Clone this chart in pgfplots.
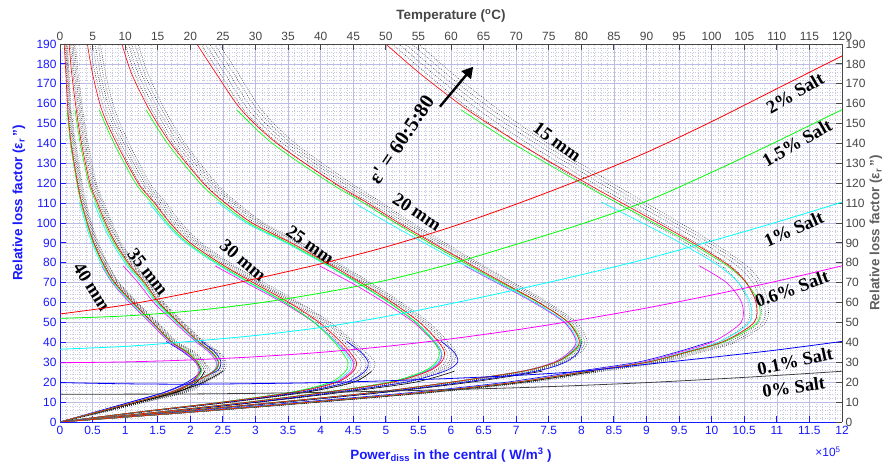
\documentclass[border=0pt]{standalone}
\usepackage{fontspec}
\setmainfont{Liberation Sans}
\newfontfamily\tnr{Liberation Serif}
\usepackage{pgfplots}
\pgfplotsset{compat=1.18}
\usepackage{pgfplotstable}
\usetikzlibrary{arrows.meta}

\definecolor{axblue}{RGB}{25,25,255}
\definecolor{axgray}{RGB}{70,70,70}
\definecolor{labgray}{RGB}{95,95,95}
\definecolor{gridmaj}{RGB}{188,188,228}
\definecolor{gridmin}{RGB}{200,200,225}
\definecolor{mgreen}{RGB}{0,255,0}
\definecolor{mcyan}{RGB}{0,255,255}
\definecolor{mmag}{RGB}{255,0,255}
\definecolor{mred}{RGB}{255,0,0}
\definecolor{mblue}{RGB}{0,0,255}

\newcommand\tickfont{\fontsize{12}{14}\selectfont}
\newcommand\labfont{\bfseries\fontsize{13.5}{15}\selectfont}
\newcommand\annfont{\tnr\bfseries\fontsize{18.5}{21}\selectfont}

\pgfplotsset{
  dk/.style={black!85, dash pattern=on 0.6pt off 1.5pt, line width=0.55pt, smooth},
  ck/.style={black, line width=0.6pt, smooth},
  cb/.style={mblue, line width=0.6pt, smooth},
  cm/.style={mmag, line width=0.6pt, smooth},
  cc/.style={mcyan, line width=0.6pt, smooth},
  cg/.style={mgreen, line width=0.6pt, smooth},
  cr/.style={mred, line width=0.6pt, smooth},
}

% columns: e = relative loss factor, r g c m b k = solid curves, d1..d5 = eps' = 60:5:80
\pgfplotstableread{
e     r     g     c     m     b     k     d1    d2    d3    d4    d5
0     0     0     0     0     0     0     0     0     0     0     0
5     2.0   2.0   2.0   2.0   1.9   2.05  2.0   2.02  2.04  2.06  2.08
10    3.85  3.85  3.85  3.84  3.7   3.95  3.85  3.89  3.93  3.97  4.01
15    5.6   5.6   5.6   5.58  5.45  5.7   5.6   5.65  5.7   5.75  5.8
20    7.0   7.0   6.99  6.97  6.85  7.1   7.0   7.06  7.12  7.18  7.24
25.5  8.1   8.1   8.08  8.05  7.95  8.2   8.1   8.16  8.22  8.28  8.34
30    9.0   9.01  8.97  8.93  8.85  nan   9.0   9.06  9.12  9.18  9.24
35    9.6   9.62  9.56  9.5   9.45  nan   9.58  9.65  9.71  9.77  9.83
40.5  10.18 10.21 10.13 10.03 10.0  nan   10.13 10.21 10.28 10.34 10.4
50    10.65 10.7  10.58 10.45 nan   nan   10.55 10.65 10.72 10.78 10.83
60    10.68 10.72 10.59 10.46 nan   nan   10.56 10.68 10.75 10.81 10.86
70    10.53 10.53 10.41 10.23 nan   nan   10.41 10.54 10.63 10.7  10.76
78.5  10.27 10.24 10.11 9.81  nan   nan   10.15 10.29 10.39 10.47 10.54
90    9.72  9.67  9.52  nan   nan   nan   9.61  9.76  9.87  9.96  10.03
100   9.18  9.12  8.94  nan   nan   nan   9.08  9.24  9.35  9.44  9.52
110.5 8.6   8.53  8.31  nan   nan   nan   8.53  8.68  8.79  8.89  8.97
120   8.08  8.0   nan   nan   nan   nan   8.03  8.18  8.29  8.39  8.48
140   7.05  6.95  nan   nan   nan   nan   7.05  7.18  7.3   7.4   7.49
157   6.25  6.15  nan   nan   nan   nan   6.3   6.42  6.53  6.63  6.73
175   5.53  nan   nan   nan   nan   nan   5.63  5.73  5.83  5.93  6.03
190   5.0   nan   nan   nan   nan   nan   5.1   5.2   5.3   5.4   5.5
}\Tfifteen

\pgfplotstableread{
e     r     g     c     m     b     k     d1    d2    d3    d4    d5
0     0     0     0     0     0     0     0     0     0     0     0
5     1.7   1.7   1.7   1.7   1.72  1.75  1.7   1.72  1.73  1.75  1.76
10    3.35  3.35  3.35  3.35  3.4   3.45  3.35  3.38  3.41  3.44  3.47
15    4.85  4.85  4.85  4.84  4.95  5.0   4.85  4.89  4.93  4.97  5.01
20    6.0   6.0   6.0   5.99  6.2   6.3   6.0   6.05  6.1   6.15  6.2
25.5  7.1   7.1   7.09  7.08  7.3   7.4   7.1   7.15  7.2   7.25  7.3
30    7.6   7.61  7.59  7.57  7.75  nan   7.6   7.64  7.68  7.72  7.76
35    7.85  7.87  7.83  7.81  7.95  nan   7.82  7.87  7.91  7.95  7.99
40.5  7.97  7.99  7.94  7.92  8.0   nan   7.92  7.97  8.01  8.05  8.09
50    7.8   7.81  7.76  7.74  nan   nan   7.75  7.8   7.85  7.89  7.93
60    7.35  7.34  7.29  7.27  nan   nan   7.3   7.36  7.41  7.45  7.49
70    6.8   6.77  6.72  6.7   nan   nan   6.75  6.82  6.87  6.92  6.96
78.5  6.33  6.29  6.23  6.21  nan   nan   6.28  6.35  6.41  6.46  6.5
90    5.72  5.67  5.59  nan   nan   nan   5.67  5.75  5.81  5.86  5.91
100   5.2   5.15  5.04  nan   nan   nan   5.16  5.24  5.3   5.36  5.41
110.5 4.7   4.64  4.5   nan   nan   nan   4.67  4.75  4.82  4.88  4.93
120   4.22  4.15  nan   nan   nan   nan   4.2   4.28  4.35  4.41  4.47
140   3.33  3.26  nan   nan   nan   nan   3.35  3.42  3.49  3.55  3.61
157   2.78  2.71  nan   nan   nan   nan   2.82  2.89  2.96  3.03  3.09
175   2.4   nan   nan   nan   nan   nan   2.46  2.53  2.6   2.67  2.74
190   2.1   nan   nan   nan   nan   nan   2.16  2.23  2.3   2.37  2.44
}\Ttwenty

\pgfplotstableread{
e     r     g     c     m     b     k     d1    d2    d3    d4    d5
0     0     0     0     0     0     0     0     0     0     0     0
5     1.5   1.5   1.5   1.5   1.55  1.57  1.5   1.52  1.54  1.56  1.58
10    2.9   2.88  2.9   2.9   3.0   3.05  2.9   2.94  2.98  3.02  3.06
15    4.1   4.07  4.09  4.09  4.25  4.35  4.1   4.15  4.2   4.25  4.3
20    5.1   5.05  5.07  5.08  5.3   5.45  5.1   5.16  5.22  5.28  5.34
25.5  5.65  5.58  5.6   5.62  5.9   6.05  5.65  5.72  5.77  5.82  5.87
30    5.85  5.77  5.8   5.82  6.1   nan   5.83  5.91  5.96  6.0   6.04
35    5.9   5.82  5.85  5.85  6.05  nan   5.86  5.94  5.99  6.03  6.07
40.5  5.8   5.73  5.75  5.73  5.85  nan   5.75  5.82  5.87  5.91  5.95
50    5.52  5.46  5.47  5.43  nan   nan   5.47  5.53  5.58  5.62  5.66
60    5.1   5.05  5.05  4.98  nan   nan   5.06  5.12  5.16  5.2   5.24
70    4.62  4.57  4.56  4.47  nan   nan   4.59  4.65  4.69  4.73  4.77
78.5  4.18  4.13  4.11  3.98  nan   nan   4.16  4.22  4.26  4.3   4.34
90    3.55  3.5   3.47  nan   nan   nan   3.54  3.59  3.64  3.68  3.72
100   2.95  2.9   2.86  nan   nan   nan   2.95  3.0   3.05  3.09  3.13
110.5 2.52  2.47  2.42  nan   nan   nan   2.53  2.58  2.63  2.67  2.71
120   2.2   2.15  nan   nan   nan   nan   2.22  2.27  2.32  2.36  2.4
140   1.7   1.65  nan   nan   nan   nan   1.73  1.78  1.83  1.88  1.92
157   1.37  1.32  nan   nan   nan   nan   1.41  1.46  1.51  1.56  1.61
175   1.1   nan   nan   nan   nan   nan   1.15  1.2   1.25  1.3   1.35
190   0.95  nan   nan   nan   nan   nan   1.0   1.05  1.1   1.15  1.2
}\Ttwentyfive

\pgfplotstableread{
e     r     g     c     m     b     k     d1    d2    d3    d4    d5
0     0     0     0     0     0     0     0     0     0     0     0
5     1.2   1.2   1.2   1.2   1.22  1.25  1.2   1.22  1.24  1.26  1.28
10    2.5   2.48  2.49  2.5   2.55  2.6   2.5   2.54  2.58  2.62  2.66
15    3.6   3.55  3.57  3.58  3.7   3.78  3.6   3.65  3.7   3.75  3.8
20    4.25  4.15  4.19  4.22  4.4   4.5   4.25  4.32  4.39  4.45  4.51
25.5  4.5   4.38  4.43  4.47  4.68  4.78  4.5   4.58  4.65  4.72  4.78
30    4.55  4.42  4.47  4.5   4.73  nan   4.52  4.62  4.69  4.76  4.83
35    4.45  4.33  4.37  4.4   4.62  nan   4.41  4.51  4.58  4.64  4.69
40.5  4.3   4.2   4.22  4.23  4.4   nan   4.26  4.35  4.41  4.46  4.5
50    3.98  3.9   3.91  3.9   nan   nan   3.95  4.02  4.07  4.11  4.15
60    3.52  3.46  3.45  3.42  nan   nan   3.5   3.56  3.6   3.64  3.68
70    2.97  2.92  2.9   2.85  nan   nan   2.96  3.01  3.05  3.09  3.13
78.5  2.52  2.48  2.45  2.38  nan   nan   2.52  2.56  2.6   2.64  2.68
90    2.0   1.96  1.93  nan   nan   nan   2.0   2.05  2.09  2.13  2.17
100   1.69  1.65  1.62  nan   nan   nan   1.7   1.74  1.78  1.82  1.86
110.5 1.44  1.4   1.36  nan   nan   nan   1.46  1.5   1.54  1.58  1.62
120   1.2   1.16  nan   nan   nan   nan   1.22  1.26  1.3   1.34  1.38
140   0.87  0.83  nan   nan   nan   nan   0.9   0.94  0.98  1.02  1.06
157   0.64  0.6   nan   nan   nan   nan   0.68  0.72  0.76  0.8   0.84
175   0.5   nan   nan   nan   nan   nan   0.54  0.58  0.62  0.66  0.7
190   0.42  nan   nan   nan   nan   nan   0.46  0.5   0.54  0.58  0.62
}\Tthirty

\pgfplotstableread{
e     r     g     c     m     b     k     d1    d2    d3    d4    d5
0     0     0     0     0     0     0     0     0     0     0     0
5     0.57  0.57  0.57  0.57  0.54  0.6   0.59  0.61  0.63  0.65  0.67
10    1.15  1.15  1.15  1.15  1.08  1.2   1.18  1.21  1.24  1.27  1.3
15    1.7   1.7   1.7   1.69  1.62  1.78  1.74  1.78  1.82  1.86  1.9
20    2.05  2.05  2.04  2.04  2.0   2.2   2.09  2.13  2.17  2.21  2.25
25.5  2.36  2.37  2.35  2.35  2.4   2.5   2.38  2.42  2.45  2.48  2.51
30    2.43  2.44  2.41  2.4   2.47  nan   2.43  2.47  2.5   2.53  2.55
35    2.33  2.34  2.31  2.29  2.38  nan   2.33  2.37  2.4   2.43  2.45
40.5  2.12  2.12  2.1   2.08  2.17  nan   2.12  2.15  2.17  2.19  2.21
50    1.82  1.81  1.79  1.76  nan   nan   1.82  1.84  1.86  1.88  1.9
60    1.52  1.5   1.48  1.44  nan   nan   1.52  1.54  1.56  1.58  1.6
70    1.3   1.28  1.25  1.2   nan   nan   1.31  1.33  1.35  1.37  1.39
78.5  1.08  1.06  1.03  0.97  nan   nan   1.09  1.11  1.13  1.15  1.17
90    0.85  0.83  0.8   nan   nan   nan   0.86  0.88  0.9   0.92  0.94
100   0.7   0.68  0.65  nan   nan   nan   0.72  0.74  0.76  0.78  0.8
110.5 0.57  0.55  0.52  nan   nan   nan   0.59  0.61  0.63  0.65  0.67
120   0.46  0.44  nan   nan   nan   nan   0.48  0.5   0.52  0.54  0.56
140   0.33  0.31  nan   nan   nan   nan   0.35  0.37  0.39  0.41  0.43
157   0.25  0.23  nan   nan   nan   nan   0.27  0.29  0.31  0.33  0.35
175   0.18  nan   nan   nan   nan   nan   0.2   0.22  0.24  0.26  0.28
190   0.14  nan   nan   nan   nan   nan   0.16  0.18  0.2   0.22  0.24
}\Tthirtyfive

\pgfplotstableread{
e     r     g     c     m     b     k     d1    d2    d3    d4    d5
0     0     0     0     0     0     0     0     0     0     0     0
5     0.58  0.58  0.58  0.58  0.54  0.6   0.6   0.62  0.64  0.66  0.68
10    1.16  1.16  1.16  1.16  1.08  1.2   1.19  1.22  1.25  1.28  1.31
15    1.75  1.75  1.75  1.74  1.6   1.8   1.79  1.83  1.87  1.91  1.95
20    2.02  2.03  2.02  2.01  1.95  2.1   2.06  2.1   2.14  2.18  2.22
25.5  2.15  2.17  2.14  2.13  2.16  2.22  2.17  2.21  2.24  2.27  2.3
30    2.1   2.12  2.09  2.08  2.08  nan   2.1   2.14  2.17  2.2   2.22
35    1.95  1.97  1.94  1.92  1.9   nan   1.95  1.99  2.02  2.05  2.07
40.5  1.7   1.71  1.69  1.67  1.63  nan   1.7   1.73  1.75  1.77  1.79
50    1.42  1.42  1.4   1.38  nan   nan   1.42  1.44  1.46  1.48  1.5
60    1.12  1.11  1.09  1.07  nan   nan   1.13  1.145 1.16  1.175 1.19
70    0.84  0.83  0.81  0.8   nan   nan   0.85  0.865 0.88  0.895 0.91
78.5  0.68  0.67  0.65  0.64  nan   nan   0.69  0.705 0.72  0.735 0.75
90    0.52  0.51  0.49  nan   nan   nan   0.53  0.545 0.56  0.575 0.59
100   0.42  0.41  0.39  nan   nan   nan   0.43  0.445 0.46  0.475 0.49
110.5 0.33  0.32  0.3   nan   nan   nan   0.34  0.355 0.37  0.385 0.4
120   0.27  0.26  nan   nan   nan   nan   0.28  0.295 0.31  0.325 0.34
140   0.17  0.16  nan   nan   nan   nan   0.18  0.195 0.21  0.225 0.24
157   0.12  0.11  nan   nan   nan   nan   0.13  0.14  0.15  0.16  0.17
175   0.09  nan   nan   nan   nan   nan   0.1   0.11  0.12  0.13  0.14
190   0.065 nan   nan   nan   nan   nan   0.075 0.085 0.095 0.105 0.115
}\Tforty

\pgfplotstableread{
T    s20   s15   s10   s06  s01  s00
0    54.3  52.1  36.6  29.8 19.8 14.0
10   58.8  53.3  38.0  30.2 19.2 14.0
20   65.0  55.8  40.5  31.2 19.0 14.1
30   72.0  59.6  43.5  32.8 19.3 14.4
40   79.5  64.8  47.5  35.0 19.8 14.9
50   88.0  71.2  53.0  38.0 20.7 15.5
60   98.0  79.5  59.5  41.8 21.9 16.3
70   109.5 89.3  66.5  46.3 23.4 17.2
80   122.0 99.5  74.0  51.5 25.5 18.4
90   135.5 111.0 82.0  57.3 29.0 19.8
100  151.0 125.5 91.0  63.8 32.5 21.5
110  167.5 141.0 100.5 70.8 36.2 23.4
120  184.0 157.0 110.5 78.5 40.5 25.5
}\salt

\newcommand\curvefamily[1]{%
\addplot[dk] table[x=d1,y=e]{#1};
\addplot[dk] table[x=d2,y=e]{#1};
\addplot[dk] table[x=d3,y=e]{#1};
\addplot[dk] table[x=d4,y=e]{#1};
\addplot[dk] table[x=d5,y=e]{#1};
\addplot[ck] table[x=k,y=e]{#1};
\addplot[cb] table[x=b,y=e]{#1};
\addplot[cm] table[x=m,y=e]{#1};
\addplot[cc] table[x=c,y=e]{#1};
\addplot[cg] table[x=g,y=e]{#1};
\addplot[cr] table[x=r,y=e]{#1};
}

\begin{document}
\begin{tikzpicture}
\begin{axis}[name=main,
  scale only axis, width=782bp, height=378bp,
  xmin=0, xmax=12, ymin=0, ymax=190,
  xtick distance=0.5, ytick distance=10,
  minor x tick num=4, minor y tick num=4,
  grid=both,
  major grid style={draw=gridmaj, line width=0.6pt},
  minor grid style={draw=gridmin, dash pattern=on 0.5pt off 2pt, line width=0.45pt},
  axis x line*=bottom, axis y line*=left,
  axis line style={draw=axblue, line width=0.9pt},
  tick align=inside, major tick length=6bp, minor tick length=0pt,
  major tick style={draw=axblue, line width=0.9pt},
  ticklabel style={font=\tickfont, text=axblue},
  xticklabel style={yshift=-1bp},
  /pgf/number format/assume math mode=true,
  unbounded coords=discard,
  clip=true,
]
\curvefamily{\Tforty}
\curvefamily{\Tthirtyfive}
\curvefamily{\Tthirty}
\curvefamily{\Ttwentyfive}
\curvefamily{\Ttwenty}
\curvefamily{\Tfifteen}

\node[font=\annfont, rotate=-36] at (axis cs:7.63,140.8) {15 mm};
\node[font=\annfont, rotate=-33] at (axis cs:5.48,105.6) {20 mm};
\node[font=\annfont, rotate=-35] at (axis cs:3.84,89) {25 mm};
\node[font=\annfont, rotate=-40] at (axis cs:2.81,81.4) {30 mm};
\node[font=\annfont, rotate=-52] at (axis cs:1.35,75.4) {35 mm};
\node[font=\annfont, rotate=-58] at (axis cs:0.49,67.9) {40 mm};
\node[font=\tnr\bfseries\fontsize{20.5}{23}\selectfont, rotate=56] at (axis cs:5.24,142) {ε' = 60:5:80};
\draw[black, line width=2.4pt, -{Triangle[length=11bp, width=12bp]}] (axis cs:5.83,158.5) -- (axis cs:6.34,178.6);

\node[font=\annfont, rotate=30] at (axis cs:11.28,165.4) {2\% Salt};
\node[font=\annfont, rotate=30] at (axis cs:11.31,140.3) {1.5\% Salt};
\node[font=\annfont, rotate=24] at (axis cs:11.26,97) {1\% Salt};
\node[font=\annfont, rotate=20] at (axis cs:11.23,66.9) {0.6\% Salt};
\node[font=\annfont, rotate=12] at (axis cs:11.28,30.7) {0.1\% Salt};
\node[font=\annfont, rotate=8] at (axis cs:11.26,17.6) {0\% Salt};
\end{axis}

\begin{axis}[
  scale only axis, width=782bp, height=378bp,
  xmin=0, xmax=120, ymin=0, ymax=190,
  xtick distance=5, ytick distance=10,
  axis x line*=top, axis y line*=right,
  axis line style={draw=axgray, line width=0.9pt},
  tick align=inside, major tick length=6bp, minor tick length=0pt,
  major tick style={draw=axgray, line width=0.9pt},
  ticklabel style={font=\tickfont, text=axgray},
  /pgf/number format/assume math mode=true,
  clip=true,
]
\addplot[mred, line width=0.8pt, smooth] table[x=T,y=s20]{\salt};
\addplot[mgreen, line width=0.8pt, smooth] table[x=T,y=s15]{\salt};
\addplot[mcyan, line width=0.8pt, smooth] table[x=T,y=s10]{\salt};
\addplot[mmag, line width=0.8pt, smooth] table[x=T,y=s06]{\salt};
\addplot[mblue, line width=0.8pt, smooth] table[x=T,y=s01]{\salt};
\addplot[black!75, line width=0.8pt, smooth] table[x=T,y=s00]{\salt};
\end{axis}

\node[text=axblue, font=\labfont] at ([yshift=-33bp]main.south) {Power\textsubscript{diss} in the central ( W/m\textsuperscript{3} )};
\node[text=axgray, font=\labfont] at ([yshift=28bp]main.north) {Temperature (\textsuperscript{o}C)};
\node[text=axblue, font=\labfont, rotate=90] at ([xshift=-41bp,yshift=30bp]main.west) {Relative loss factor (ε\textsubscript{r}\,")};
\node[text=labgray, font=\labfont, rotate=90] at ([xshift=34bp]main.east) {Relative loss factor (ε\textsubscript{r}\,")};
\node[text=axblue, font=\tickfont] at ([xshift=-14bp,yshift=-30bp]main.south east) {×10\textsuperscript{5}};

\pgfresetboundingbox
\path ([shift={(-60bp,-42bp)}]main.south west) rectangle ([shift={(41bp,44bp)}]main.north east);
\end{tikzpicture}
\end{document}
